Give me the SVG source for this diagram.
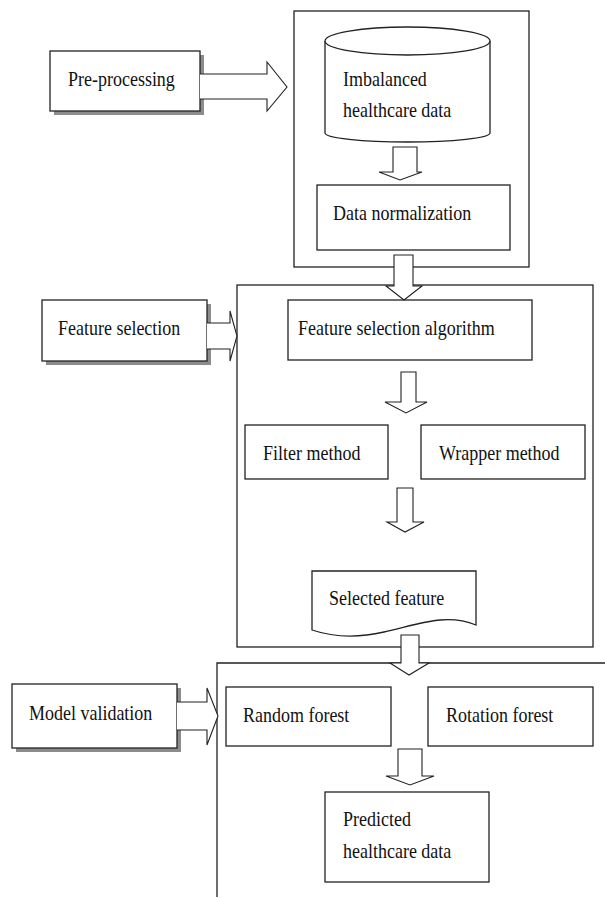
<svg xmlns="http://www.w3.org/2000/svg" width="605" height="898" viewBox="0 0 605 898">
<style>
.b{fill:#fff;stroke:#222;stroke-width:1.3}
.o{fill:none;stroke:#222;stroke-width:1.3}
.sh{fill:#8c8c8c}
.a{fill:#fff;stroke:#222;stroke-width:1.1}
</style>
<rect width="605" height="898" fill="#fff"/>
<g id="container-preprocessing">
<rect class="o" x="294" y="11" width="235" height="256"/>
</g>
<g id="container-featureselection">
<rect class="o" x="237" y="285" width="356" height="362"/>
</g>
<g id="container-modelvalidation">
<path class="o" d="M217,897 V663 H605"/>
</g>
<g font-family="Liberation Serif, Times New Roman, DejaVu Serif, serif" font-size="18" fill="#111">
<g id="node-preprocessing">
<rect class="sh" x="54" y="55" width="150" height="60"/>
<rect class="b" x="50" y="51" width="150" height="60"/>
<text transform="translate(68 86) scale(1 1.15)">Pre-processing</text>
</g>
<g id="node-imbalanced">
<path class="b" d="M325,41 V133 A82.5,9 0 0 0 490,133 V41"/>
<ellipse class="b" cx="407.5" cy="41" rx="82.5" ry="14"/>
<text transform="translate(343 86) scale(1 1.15)">Imbalanced</text>
<text transform="translate(343 117) scale(1 1.15)">healthcare data</text>
</g>
<g id="node-normalization">
<rect class="b" x="317" y="185" width="193" height="65"/>
<text transform="translate(333 220) scale(1 1.15)">Data normalization</text>
</g>
<g id="node-featureselection">
<rect class="sh" x="46" y="304" width="165" height="61"/>
<rect class="b" x="42" y="300" width="165" height="61"/>
<text transform="translate(58 335) scale(1 1.15)">Feature selection</text>
</g>
<g id="node-fsalgorithm">
<rect class="b" x="288" y="300" width="244" height="60"/>
<text transform="translate(298 335) scale(1 1.15)">Feature selection algorithm</text>
</g>
<g id="node-filter">
<rect class="b" x="245" y="425" width="143" height="54"/>
<text transform="translate(263 460) scale(1 1.15)">Filter method</text>
</g>
<g id="node-wrapper">
<rect class="b" x="421" y="425" width="164" height="54"/>
<text transform="translate(439 460) scale(1 1.15)">Wrapper method</text>
</g>
<g id="node-selected">
<path class="b" d="M312,571 H476 V625 C446,613 420,624 384,632 C358,638 333,637 312,630 Z"/>
<text transform="translate(329 605) scale(1 1.15)">Selected feature</text>
</g>
<g id="node-modelvalidation">
<rect class="sh" x="16" y="688" width="165" height="64"/>
<rect class="b" x="12" y="684" width="165" height="64"/>
<text transform="translate(29 720) scale(1 1.15)">Model validation</text>
</g>
<g id="node-randomforest">
<rect class="b" x="226" y="687" width="165" height="59"/>
<text transform="translate(243 722) scale(1 1.15)">Random forest</text>
</g>
<g id="node-rotationforest">
<rect class="b" x="428" y="687" width="165" height="59"/>
<text transform="translate(446 722) scale(1 1.15)">Rotation forest</text>
</g>
<g id="node-predicted">
<rect class="b" x="325" y="792" width="164" height="90"/>
<text transform="translate(343 826) scale(1 1.15)">Predicted</text>
<text transform="translate(343 858) scale(1 1.15)">healthcare data</text>
</g>
</g>
<g id="connectors">
<path class="a" d="M200,74 H267 V62 L287,87 L267,111 V99 H200"/>
<path class="a" d="M207,323 H230 V311 L237,336 L230,361 V349 H207"/>
<path class="a" d="M177,702 H207 V688 L218,716 L207,745 V730 H177"/>
<path class="a" d="M393,147 H417 V172 H422 L400,180 L379,172 H393 Z"/>
<path class="a" d="M394,255 H413 V286 H422 L404,300 L386,286 H394 Z"/>
<path class="a" d="M401,372 H416 V402 H427 L406,413 L385,402 H401 Z"/>
<path class="a" d="M397,488 H413 V522 H424 L405,532 L387,522 H397 Z"/>
<path class="a" d="M401,635 H419 V663 H429 L409,675 L390,663 H401 Z"/>
<path class="a" d="M398,749 H422 V776 H434 L410,785 L386,776 H398 Z"/>
</g>
</svg>
